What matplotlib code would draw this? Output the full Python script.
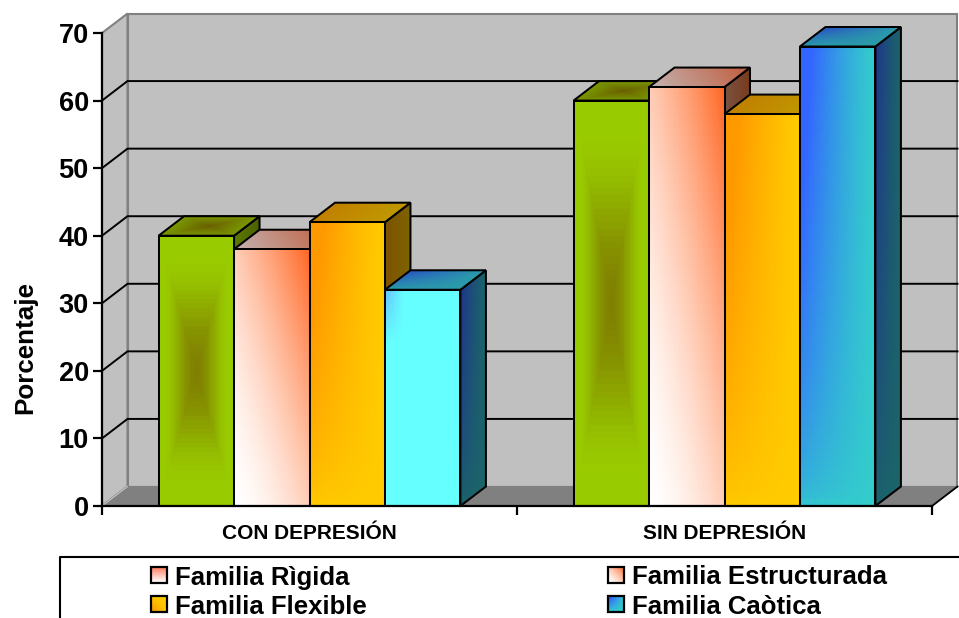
import numpy as np
import matplotlib
matplotlib.use('Agg')
import matplotlib.pyplot as plt
from matplotlib.patches import Polygon, Rectangle

plt.rcParams['font.family'] = ['Liberation Sans', 'DejaVu Sans']
plt.rcParams['font.weight'] = 'bold'

categories = ['CON DEPRESIÓN', 'SIN DEPRESIÓN']
series_names = ['Familia Rìgida', 'Familia Estructurada', 'Familia Flexible', 'Familia Caòtica']
rigida = [40, 60]
estructurada = [38, 62]
flexible = [42, 58]
caotica = [32, 68]
y_ticks = [0, 10, 20, 30, 40, 50, 60, 70]
grid_levels = [10, 20, 30, 40, 50, 60]


def rgb(*c):
    return np.array(c, dtype=float) / 255


def mix(a, b, t):
    t = np.clip(t, 0, 1)[..., None]
    return a * (1 - t) + b * t


# front face fills, u runs left to right and v bottom to top
def green_front(u, v):
    m = np.maximum(np.abs(2 * u - 1), np.abs(2 * v - 1))
    s = np.clip(1 - m / 0.88, 0, 1)
    return mix(rgb(153, 204, 0), rgb(128, 128, 0), s * s * (3 - 2 * s))


def pink_front(u, v):
    return mix(rgb(255, 255, 255), rgb(255, 102, 34), (0.5 * u + 0.5 * v) ** 1.6)


def orange_front(u, v):
    return mix(rgb(255, 204, 0), rgb(255, 153, 0), (1 - u) ** 1.2 * v ** 0.6 * 1.3)


def cyan_front(u, v):
    return mix(rgb(102, 255, 255), rgb(102, 204, 255),
               np.clip(1 - u * 4, 0, 1) * np.clip(v * 4 - 3, 0, 1) * 1.3)


def teal_front(u, v):
    return mix(rgb(51, 204, 204), rgb(51, 102, 255), (1 - u) ** 1.3 * v ** 0.5 * 1.25)


# top and side faces are darker versions, u across and v into the depth or upward
def green_top(u, v):
    m = np.maximum(np.abs(2 * u - 1), np.abs(2 * v - 1))
    return mix(rgb(122, 153, 0), rgb(105, 95, 0), 1 - m)


def green_side(u, v):
    return mix(rgb(92, 122, 0), rgb(76, 96, 0), u)


def pink_top(u, v):
    return mix(rgb(195, 180, 178), rgb(192, 92, 60), u * 0.65 + v * 0.35)


def pink_side(u, v):
    return mix(rgb(130, 105, 98), rgb(118, 58, 28), u * 0.5 + v * 0.5)


def orange_top(u, v):
    return mix(rgb(192, 128, 0), rgb(192, 152, 0), u)


def orange_side(u, v):
    return mix(rgb(125, 82, 0), rgb(125, 100, 0), u)


def blue_top(u, v):
    return mix(rgb(42, 155, 170), rgb(42, 92, 192), (1 - u) * v * 1.2)


def blue_side(u, v):
    return mix(rgb(27, 100, 105), rgb(30, 52, 140), (1 - u) ** 1.2 * v ** 0.6)


def gradient_mesh(axes, origin, e1, e2, fill, z, n=60):
    # cells of one flat colour each, edges left off so no seams show
    u, v = np.meshgrid(np.linspace(0, 1, n + 1), np.linspace(0, 1, n + 1))
    X = origin[0] + u * e1[0] + v * e2[0]
    Y = origin[1] + u * e1[1] + v * e2[1]
    uc = (u[:-1, :-1] + u[1:, 1:]) / 2
    vc = (v[:-1, :-1] + v[1:, 1:]) / 2
    axes.pcolormesh(X, Y, fill(uc, vc), shading='flat', antialiased=False, linewidth=0,
                    clip_on=False, zorder=z)


fig = plt.figure(figsize=(9.59, 6.18), dpi=100, facecolor='white')
ax = fig.add_axes([102 / 959, (618 - 506) / 618, 830 / 959, 473 / 618])
ax.patch.set_visible(False)

depth_x = 25.5 * 2 / 830
depth_y = 19.5 * 70 / 473
bar_w = 1 / 5.5
lw = 1.45


def face(origin, e1, e2, fill, z):
    gradient_mesh(ax, origin, e1, e2, fill, z)
    pts = [origin, (origin[0] + e1[0], origin[1] + e1[1]),
           (origin[0] + e1[0] + e2[0], origin[1] + e1[1] + e2[1]),
           (origin[0] + e2[0], origin[1] + e2[1])]
    ax.add_patch(Polygon(pts, closed=True, fill=False, edgecolor='black', lw=lw,
                         joinstyle='miter', clip_on=False, zorder=z + 0.1))


def draw_bar(x, h, front, top, side, z):
    face((x + bar_w, 0), (depth_x, depth_y), (0, h), side, z)
    face((x, h), (bar_w, 0), (depth_x, depth_y), top, z + 0.2)
    face((x, 0), (bar_w, 0), (0, h), front, z + 0.4)


# walls and floor
wall = '#C0C0C0'
edge = '#808080'
ax.add_patch(Polygon([(depth_x, depth_y), (2 + depth_x, depth_y), (2 + depth_x, 70 + depth_y), (depth_x, 70 + depth_y)],
                     facecolor=wall, edgecolor=edge, lw=1.5, clip_on=False, zorder=1))
ax.add_patch(Polygon([(0, 0), (depth_x, depth_y), (depth_x, 70 + depth_y), (0, 70)],
                     facecolor=wall, edgecolor=edge, lw=1.5, clip_on=False, zorder=1))
ax.add_patch(Polygon([(0, 0), (2, 0), (2 + depth_x, depth_y), (depth_x, depth_y)],
                     facecolor=edge, edgecolor=edge, lw=0.8, clip_on=False, zorder=1.1))
ax.plot([2, 2 + depth_x], [0, depth_y], color='black', lw=1.3, clip_on=False, zorder=1.2)
ax.plot([0, depth_x], [0, depth_y], color='#C8C8C8', lw=0.8, clip_on=False, zorder=1.2)
for level in grid_levels:
    ax.plot([0, depth_x, 2 + depth_x], [level, level + depth_y, level + depth_y],
            color='black', lw=1.4, clip_on=False, zorder=1.5, solid_joinstyle='miter')

series = [
    (rigida, [green_front, green_front], green_top, green_side),
    (estructurada, [pink_front, pink_front], pink_top, pink_side),
    (flexible, [orange_front, orange_front], orange_top, orange_side),
    (caotica, [cyan_front, teal_front], blue_top, blue_side),
]
z = 2
for c in range(len(categories)):
    for s, (values, fronts, top, side) in enumerate(series):
        draw_bar(c + bar_w * (0.75 + s), values[c], fronts[c], top, side, z)
        z += 1

ax.set_xlim(0, 2)
ax.set_ylim(0, 70)
ax.set_yticks(y_ticks)
ax.set_yticklabels([str(t) for t in y_ticks], fontsize=19.5, fontweight='bold')
ax.tick_params(axis='y', length=6.5, width=1.6, pad=3)
ax.set_xticks([0, 1, 2])
ax.set_xticklabels([])
ax.tick_params(axis='x', which='major', length=6.5, width=1.6)
ax.set_xticks([0.5, 1.5], minor=True)
ax.set_xticklabels(categories, minor=True, fontsize=15, fontweight='bold')
ax.tick_params(axis='x', which='minor', length=0, pad=13)
ax.set_ylabel('Porcentaje', fontsize=18.7, fontweight='bold')
ax.yaxis.set_label_coords(-0.078, 0.335)
for name in ['top', 'right']:
    ax.spines[name].set_visible(False)
for name in ['left', 'bottom']:
    ax.spines[name].set_linewidth(1.6)
    ax.spines[name].set_zorder(50)

# legend panel, laid out in pixels and running off the lower right corner
leg = fig.add_axes([0, 0, 1, 1])
leg.patch.set_visible(False)
leg.axis('off')
swatches = [
    (151, 567, lambda u, v: mix(rgb(255, 255, 255), rgb(255, 102, 68), v ** 1.2 * 0.9)),
    (608, 567, pink_front),
    (151, 596, lambda u, v: mix(rgb(255, 204, 0), rgb(255, 153, 0), (1 - u) * (1 - v) * 1.3)),
    (608, 596, lambda u, v: mix(rgb(51, 204, 204), rgb(51, 102, 255), (1 - u) * v * 1.4)),
]
sw, sh = 16, 16
for (x, y, fill), name in zip(swatches, series_names):
    gradient_mesh(leg, (x, y + sh), (sw, 0), (0, -sh), fill, 2, n=16)
    leg.add_patch(Rectangle((x, y), sw, sh, fill=False, edgecolor='black', lw=1.6, zorder=3))
    leg.text(x + 24, y + sh / 2 + 2.5, name, fontsize=18.55, fontweight='bold', va='center', ha='left')
leg.plot([960, 60, 60], [557, 557, 620], color='black', lw=1.5, clip_on=False)
leg.set_xlim(0, 959)
leg.set_ylim(618, 0)

fig.savefig('out.png', dpi=100)
